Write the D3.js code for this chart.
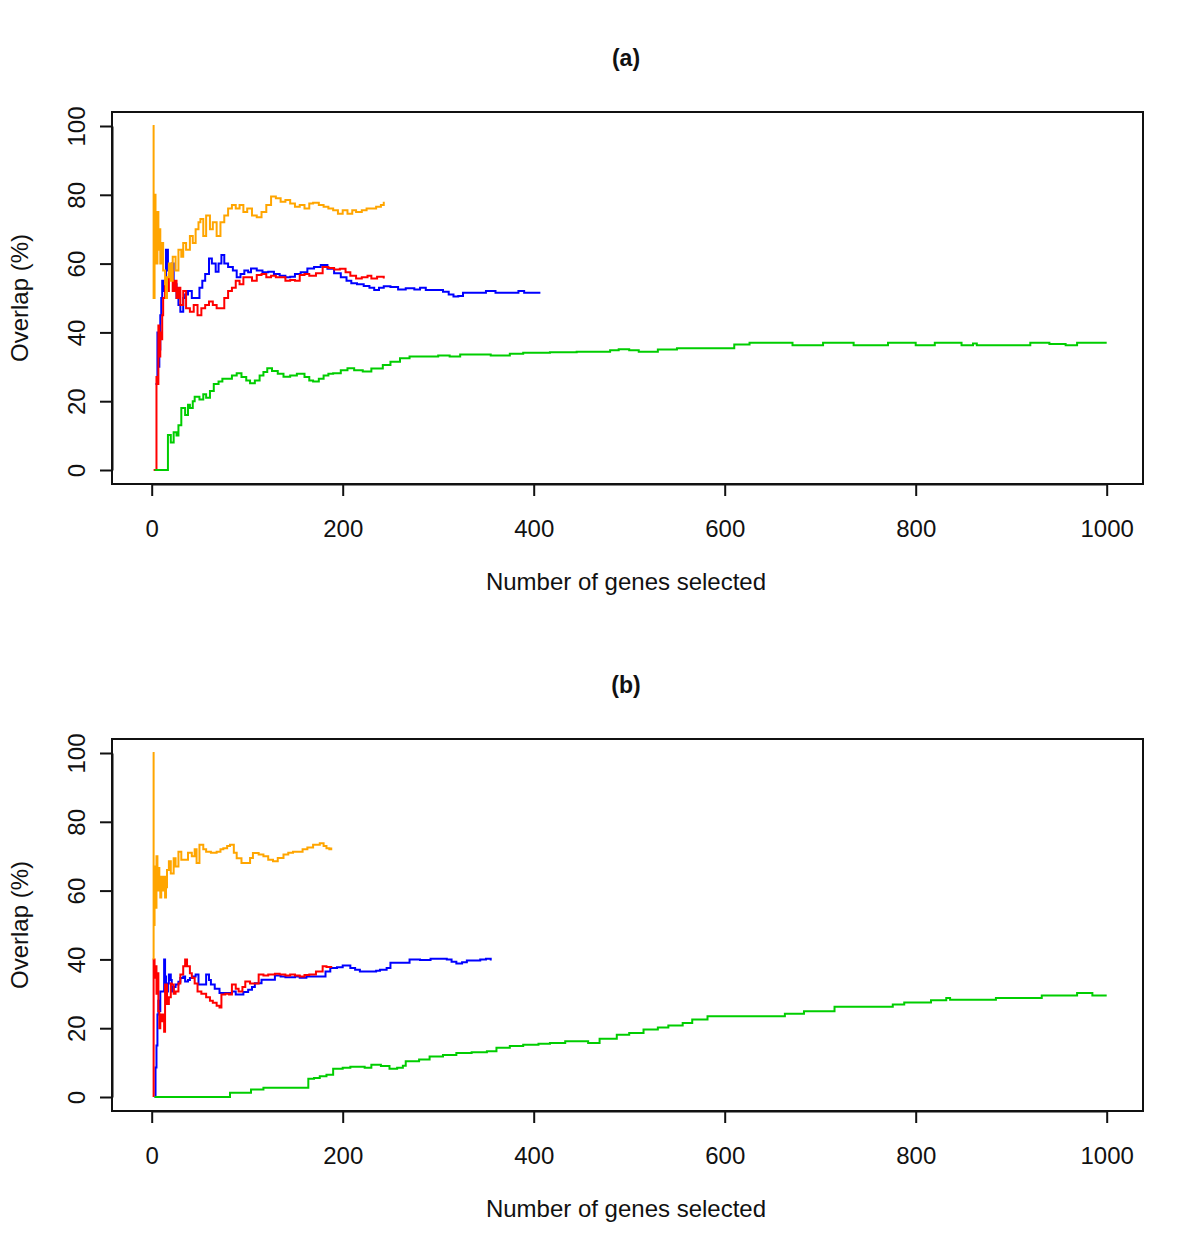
<!DOCTYPE html>
<html>
<head>
<meta charset="utf-8">
<script src="https://cdn.jsdelivr.net/npm/d3@7"></script>
<style>
  body { margin: 0; background: #fff; }
  text { font-family: "Liberation Sans", Arial, sans-serif; fill: #111; }
</style>
</head>
<body>
<script>
// tick values shared by both panels
var xTicks = [0, 200, 400, 600, 800, 1000];
var yTicks = [0, 20, 40, 60, 80, 100];
var panelTitles = ["(a)", "(b)"];
var xTitle = "Number of genes selected";
var yTitle = "Overlap (%)";
var seriesColors = ["#0000ff", "#ff0000", "#ffa500", "#00cd00"];  // blue, red, orange, green

// panel (a): [genes selected, overlap %]
var a_blue = [[4,25],[5,25],[6,40],[7,30],[8,35],[9,45],[10,50],[11,55],[13,52],[15,64],[17,58],[19,56],[21,60],[23,54],[26,50],[28,48],[30,46],[33,50],[35,51],[38,52],[42,50],[46,50],[50,53],[53,55],[56,57],[60,61.5],[63,60],[67,57.6],[70,60],[73,62.5],[76,60],[80,59],[85,58],[89,56],[93,57],[97,58],[101,57.5],[104,58.6],[110,58],[116,57.5],[122,57.6],[128,57],[134,56.5],[140,56],[145,56.2],[150,57],[156,57.5],[163,58.6],[170,59],[177,59.6],[184,58.5],[191,57.2],[198,56],[204,55],[209,54.3],[215,54],[222,53.5],[228,53],[233,52.3],[238,53],[243,53.4],[250,53.2],[258,52.5],[266,52.8],[275,52.5],[281,53],[287,52.3],[295,52.3],[305,51.8],[311,51],[316,50.4],[321,50.6],[326,51.5],[335,51.5],[345,51.5],[350,52],[360,51.5],[370,51.5],[380,51.5],[384,52],[390,51.5],[400,51.5],[407,51.5]];
var a_red = [[2,0],[4,0],[5,27],[6,25],[7,42],[8,33],[9,40],[10,38],[11,45],[12,50],[14,55],[16,52],[18,57],[20,58],[22,52],[24,55],[26,50],[28,53],[30,48],[33,52],[36,47],[40,46],[44,48],[48,45],[52,47],[56,48],[60,49],[64,48],[68,47],[72,47],[76,50],[80,52],[84,53],[88,55],[92,54],[96,56],[100,56],[105,55],[110,56.7],[115,57],[120,56],[125,56.5],[130,56],[135,56],[140,55],[145,55.2],[150,55],[155,56.7],[160,57],[165,56.5],[172,57.2],[179,59],[185,58.7],[191,58.3],[197,58.5],[203,57.5],[208,56.5],[214,55.7],[220,56],[226,56.5],[230,55.7],[236,56.2],[243,55.7]];
var a_orange = [[1,100],[2,50],[3,80],[4,67],[5,60],[6,75],[7,64],[8,70],[9,60],[10,66],[12,58],[14,54],[15,50],[16,56],[18,60],[20,55],[22,62],[25,58],[28,64],[31,62],[33,66],[36,64],[40,68],[43,66],[46,70],[49,72],[51,73],[54,68],[57,74],[61,70],[64,72],[68,68],[72,72],[76,74],[80,76],[84,77],[88,76],[92,77],[96,75],[100,76],[105,74],[110,73.5],[115,75],[120,77],[125,79.5],[130,79],[135,78],[140,78.5],[145,77.5],[150,76.5],[155,77],[160,76],[165,77.5],[169,77.7],[175,77],[180,76.5],[185,76],[190,75.5],[195,74.5],[200,75.5],[205,74.5],[210,75.5],[214,75],[220,75.5],[225,76],[230,76],[235,76.5],[240,77],[243,78]];
var a_green = [[3,0],[17,0],[17,10.2],[20,8],[23,11],[26,10],[28,13],[31,18],[35,16],[38,19],[40,18],[43,20],[45,21.3],[50,20.5],[54,22],[57,21],[61,23],[65,25],[70,25.7],[74,26.5],[79,26.5],[84,27.5],[89,28.1],[94,27],[99,26],[103,25.2],[108,26],[113,27.5],[117,28.5],[121,29.6],[126,28.8],[132,28],[138,27.1],[145,27.5],[152,28],[160,27],[165,26],[169,25.7],[175,26.5],[180,27.5],[185,28],[190,28.1],[198,29],[205,29.6],[212,29],[221,28.6],[230,29.5],[242,30.5],[250,31.5],[260,32.5],[270,33],[288,33],[300,33.3],[312,33],[323,33.6],[345,33.6],[355,33.3],[365,33.3],[375,33.8],[389,34.1],[417,34.2],[445,34.4],[469,34.4],[480,34.8],[489,35.1],[500,34.8],[510,34.4],[518,34.4],[530,35],[550,35.4],[598,35.4],[610,36.5],[626,37],[666,37],[671,36.3],[699,36.3],[703,37],[731,37],[735,36.3],[767,36.3],[771,37],[796,37],[800,36.3],[816,36.3],[820,37],[844,37],[848,36.3],[860,36.8],[864,36.3],[917,36.3],[920,37],[940,36.6],[957,36.3],[969,37],[1000,37]];

// panel (b)
var b_blue = [[3,0],[4,8.6],[5,15],[6,24],[7,28],[8,25],[9,30.7],[11,30.7],[13,40],[14,35],[15,30.7],[17,33],[18,35.6],[20,34],[21,30.7],[23,32],[25,32.7],[28,33.5],[30,34.6],[33,35],[35,33.6],[38,34],[40,34.6],[43,35],[46,35.6],[49,32.7],[53,32.7],[57,35.6],[60,34],[62,32.7],[66,31.5],[71,30.2],[78,30.2],[84,30.7],[88,29.8],[91,29.8],[96,30.5],[101,31.2],[105,32],[108,33.1],[115,34.1],[122,34.1],[129,35.3],[135,35],[140,34.8],[145,34.8],[150,35],[155,34.7],[162,35],[176,35],[182,36.5],[187,37.5],[194,37.7],[200,38.2],[208,37.5],[213,37],[218,36.5],[229,36.5],[235,36.7],[239,37],[246,37.5],[250,39],[263,39],[270,40],[281,39.8],[292,40.2],[309,40],[314,39.3],[319,38.8],[325,39.2],[330,39.7],[344,40],[350,40.2],[355,39.7]];
var b_red = [[2,0],[2,40],[3,34.7],[4,38],[5,30],[6,36],[7,25],[8,20],[9,24],[10,22],[12,24],[13,19],[14,32.7],[16,27],[18,29],[20,33],[21,32.7],[23,30],[25,30.7],[28,33],[30,35.6],[33,38],[35,40],[37,38],[40,36],[42,34.7],[45,33],[48,30.7],[52,30],[57,29],[61,28],[64,27.4],[68,26.5],[71,26],[73,29.8],[77,30],[81,29.8],[84,32.7],[88,31.5],[91,30.7],[95,32],[98,33.6],[103,33],[108,33],[112,35.6],[117,35.3],[122,35.6],[129,35.8],[134,35.6],[140,35.3],[145,35.6],[150,35.3],[155,35],[160,35.5],[165,35.6],[172,36.5],[179,38],[183,37.8],[188,37.6]];
var b_orange = [[1,100],[2,40],[2,50],[3,67],[4,55],[5,70],[6,60],[7,66.6],[8,62],[9,58],[10,64],[11,60],[13,64],[14,58],[15,61],[16,66],[18,68.5],[20,65],[23,69.4],[25,67],[28,71.3],[31,69],[35,69],[38,71],[42,70],[45,72],[47,68],[50,73.3],[54,72],[57,71.3],[62,71],[68,71.3],[72,72],[75,72.3],[79,73],[82,73.3],[86,71],[89,69.4],[94,68],[99,68],[103,69.5],[106,70.9],[112,70.5],[117,70],[122,69],[127,68.5],[132,69.5],[138,70.5],[143,71],[148,71.3],[152,71.3],[158,72],[163,72.5],[169,73.3],[176,73.8],[180,73],[183,72.3],[186,72],[188,72.5]];
var b_green = [[3,0],[82,0],[82,1.2],[100,1.2],[104,2.2],[113,2.2],[117,2.7],[159,2.7],[164,5.3],[170,5.5],[176,6],[183,6.5],[190,8.2],[200,8.5],[208,8.8],[215,8.8],[223,8.5],[230,9.4],[240,9],[249,8.2],[257,8.5],[263,9.1],[266,10.4],[280,10.9],[291,11.8],[305,12.2],[319,12.8],[335,13],[351,13.3],[361,14.3],[375,14.8],[389,15.2],[405,15.5],[417,15.7],[433,16.2],[457,15.7],[469,16.9],[487,18.1],[500,18.6],[515,19.6],[530,20.2],[541,20.8],[556,21.5],[566,22.5],[582,23.5],[659,23.5],[663,24.2],[683,24.9],[711,24.9],[715,26.2],[772,26.2],[776,26.9],[788,27.5],[816,28.1],[832,28.8],[836,28.3],[884,28.8],[932,29.5],[969,30.2],[985,29.5],[1000,29.5]];

var panelSeries = [[a_blue, a_red, a_orange, a_green], [b_blue, b_red, b_orange, b_green]];

var svg = d3.select("body").append("svg").attr("width", 1200).attr("height", 1249);

var boxL = 112, boxR = 1143, boxH = 372, panelStep = 627;
var x = d3.scaleLinear().domain([0, 1000]).range([151.7, 1106.7]);

panelSeries.forEach(function(series, p) {
  var top = 112 + p * panelStep;
  var g = svg.append("g").attr("transform", "translate(0," + top + ")");
  var y = d3.scaleLinear().domain([0, 100]).range([358, 14]);

  // title
  g.append("text").attr("x", 626).attr("y", -46)
    .attr("text-anchor", "middle").style("font-size", "23px").style("font-weight", "bold")
    .text(panelTitles[p]);

  // lines
  var line = d3.line().x(function(d) { return x(d[0]); }).y(function(d) { return y(d[1]); })
    .curve(d3.curveStepAfter);
  series.forEach(function(s, i) {
    g.append("path").datum(s).attr("d", line)
      .attr("fill", "none").attr("stroke", seriesColors[i]).attr("stroke-width", 2);
  });

  // x axis
  var xAxis = g.append("g").attr("transform", "translate(0," + boxH + ")")
    .call(d3.axisBottom(x).tickValues(xTicks).tickFormat(d3.format("d"))
      .tickSize(12).tickSizeOuter(0).tickPadding(24));
  xAxis.selectAll("text").style("font-size", "24px").attr("fill", "#111");

  // y axis, labels parallel to axis
  var yAxis = g.append("g").attr("transform", "translate(" + boxL + ",0)")
    .call(d3.axisLeft(y).tickValues(yTicks).tickSize(12).tickSizeOuter(0));
  yAxis.selectAll("text").attr("x", 0).attr("dy", 0).attr("text-anchor", "middle")
    .attr("transform", "translate(-27,0) rotate(-90)")
    .style("font-size", "24px").attr("fill", "#111");
  svg.selectAll(".domain, .tick line").attr("stroke", "#111").attr("stroke-width", 2);

  // frame
  g.append("rect").attr("x", boxL).attr("y", 0).attr("width", boxR - boxL).attr("height", boxH)
    .attr("fill", "none").attr("stroke", "#111").attr("stroke-width", 2);

  // axis titles
  g.append("text").attr("x", 626).attr("y", 478).attr("text-anchor", "middle")
    .style("font-size", "24px").text(xTitle);
  g.append("text").attr("transform", "translate(28," + 186 + ") rotate(-90)")
    .attr("text-anchor", "middle").style("font-size", "24px").text(yTitle);
});
</script>
</body>
</html>
